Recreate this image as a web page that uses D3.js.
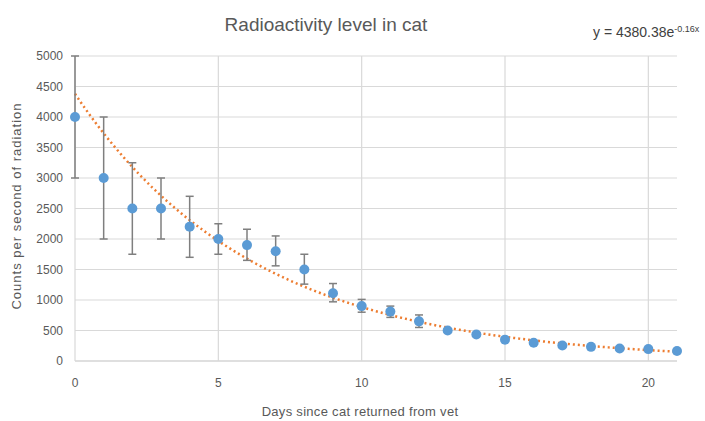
<!DOCTYPE html>
<html><head><meta charset="utf-8">
<script src="https://cdn.jsdelivr.net/npm/d3@7"></script>
<style>body{margin:0;background:#fff}svg{display:block}</style>
</head><body>
<svg id="c" width="705" height="421"></svg>
<script>
const days = [0,1,2,3,4,5,6,7,8,9,10,11,12,13,14,15,16,17,18,19,20,21];
const counts = [4000,3000,2500,2500,2200,2000,1900,1800,1500,1110,900,810,650,500,435,350,300,255,232,205,195,165];
const errHigh = [5000,4000,3250,3000,2700,2250,2160,2050,1750,1270,1010,900,755,500,435,350,300,255,232,205,195,165];
const errLow  = [3000,2000,1750,2000,1700,1750,1650,1560,1260,970,800,715,550,500,435,350,300,255,232,205,195,165];
const yTicks = [0,500,1000,1500,2000,2500,3000,3500,4000,4500,5000];
const xTicks = [0,5,10,15,20];
const fitA = 4380.38, fitK = -0.16;
const titleText = "Radioactivity level in cat";
const xTitle = "Days since cat returned from vet";
const yTitle = "Counts per second of radiation";

const svg = d3.select("#c");
const font = "'Liberation Sans Narrow','Liberation Sans',sans-serif";
const x = d3.scaleLinear().domain([0,21]).range([75,677]);
const y = d3.scaleLinear().domain([0,5000]).range([361,56]);
const txt = "#595959";

// horizontal gridlines
svg.append("g").selectAll("line").data(yTicks).join("line")
  .attr("x1",x(0)).attr("x2",x(21)).attr("y1",d=>y(d)).attr("y2",d=>y(d))
  .attr("stroke",d=>d===0?"#bfbfbf":"#d9d9d9").attr("stroke-width",1.2);
// vertical gridlines
svg.append("g").selectAll("line").data(xTicks).join("line")
  .attr("x1",d=>x(d)).attr("x2",d=>x(d)).attr("y1",y(0)).attr("y2",y(5000))
  .attr("stroke","#d9d9d9").attr("stroke-width",1.2);

// y tick labels
svg.append("g").selectAll("text").data(yTicks).join("text")
  .attr("x",63).attr("y",d=>y(d)+4).attr("text-anchor","end")
  .attr("font-family",font).attr("font-size",12).attr("fill",txt).text(d=>d);
// x tick labels
svg.append("g").selectAll("text").data(xTicks).join("text")
  .attr("x",d=>x(d)).attr("y",387).attr("text-anchor","middle")
  .attr("font-family",font).attr("font-size",12).attr("fill",txt).text(d=>d);

// trendline
const fitPts = d3.range(0,21.001,0.1).map(t=>[t, fitA*Math.exp(fitK*t)]);
svg.append("path").datum(fitPts)
  .attr("d",d3.line().x(d=>x(d[0])).y(d=>y(d[1])))
  .attr("fill","none").attr("stroke","#ED7D31").attr("stroke-width",2.5)
  .attr("stroke-dasharray","2,3");

// error bars
const eb = svg.append("g").attr("stroke","#7f7f7f").attr("stroke-width",1.5);
days.forEach((d,i)=>{
  if (errHigh[i]===errLow[i]) return;
  eb.append("line").attr("x1",x(d)).attr("x2",x(d)).attr("y1",y(errHigh[i])).attr("y2",y(errLow[i]));
  eb.append("line").attr("x1",x(d)-4).attr("x2",x(d)+4).attr("y1",y(errHigh[i])).attr("y2",y(errHigh[i]));
  eb.append("line").attr("x1",x(d)-4).attr("x2",x(d)+4).attr("y1",y(errLow[i])).attr("y2",y(errLow[i]));
});

// points
svg.append("g").selectAll("circle").data(days).join("circle")
  .attr("cx",d=>x(d)).attr("cy",(d,i)=>y(counts[i])).attr("r",5)
  .attr("fill","#5B9BD5");

// title
svg.append("text").attr("x",326).attr("y",31).attr("text-anchor","middle")
  .attr("font-family",font).attr("font-size",19).attr("fill",txt).text(titleText);
// equation
const eq = svg.append("text").attr("x",593).attr("y",37)
  .attr("font-family",font).attr("font-size",14).attr("fill","#404040");
eq.append("tspan").text("y = 4380.38e");
eq.append("tspan").attr("dy",-5).attr("font-size",9).text("-0.16x");
// axis titles
svg.append("text").attr("x",360).attr("y",416).attr("text-anchor","middle")
  .attr("font-family",font).attr("font-size",13).attr("letter-spacing",0.3).attr("fill",txt).text(xTitle);
svg.append("text").attr("transform","translate(21,206) rotate(-90)").attr("text-anchor","middle")
  .attr("font-family",font).attr("font-size",13).attr("letter-spacing",1).attr("fill",txt).text(yTitle);
</script>
</body></html>
